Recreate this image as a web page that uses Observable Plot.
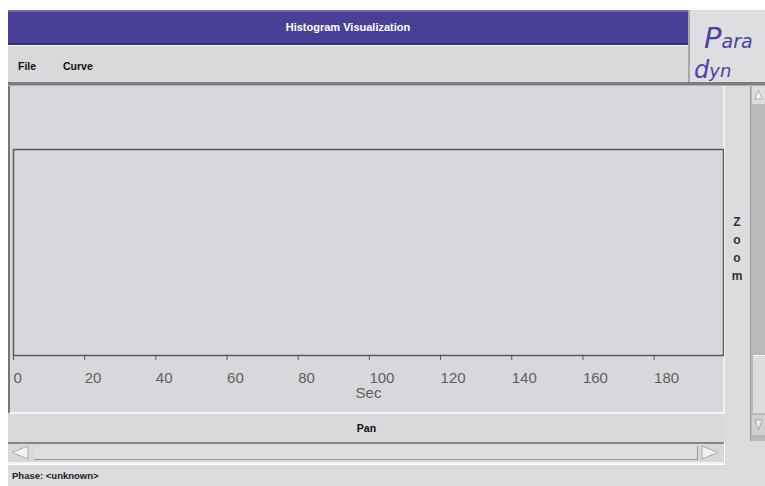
<!DOCTYPE html>
<html>
<head>
<meta charset="utf-8">
<script src="https://cdn.jsdelivr.net/npm/d3@7"></script>
<script src="https://cdn.jsdelivr.net/npm/@observablehq/plot@0.6"></script>
<style>
  html, body { margin: 0; padding: 0; background: #ffffff; }
  #win { position: relative; width: 765px; height: 486px; overflow: hidden; background: #ffffff; font-family: "Liberation Sans", Arial, sans-serif; }
  .abs { position: absolute; box-sizing: border-box; }
  #title { left: 8px; top: 10px; width: 680px; height: 35px; background: #4a3f97; border-top: 2px solid #6f66b4; border-bottom: 2px solid #3a317c; color: #fff; font-weight: bold; font-size: 11px; text-align: center; line-height: 31px; }
  #menu { left: 8px; top: 45px; width: 680px; height: 38px; background: #d9d8da; border-top: 1px solid #f2f2f2; font-weight: bold; font-size: 10.5px; color: #111; }
  #menu span { position: absolute; top: 14px; }
  #logo { left: 688px; top: 10px; width: 77px; height: 73px; background: #dedde0; border-left: 2px solid #a9a9ab; }
  #sep { left: 8px; top: 82px; width: 757px; height: 4px; background: #7c7c7e; border-bottom: 1px solid #b0b0b2; }
  #main { left: 8px; top: 86px; width: 717px; height: 328px; background: #d9d7db; border-left: 2px solid #767678; border-right: 2px solid #f0f0f0; border-bottom: 2px solid #f2f2f2; }
  #plot { left: 8px; top: 86px; width: 716px; height: 327px; }
  #zoomcol { left: 725px; top: 86px; width: 26px; height: 355px; background: #dcdbdd; border-right: 1px solid #a0a0a2; }
  #zoomtxt { left: 727px; top: 213px; width: 20px; font-weight: bold; font-size: 12px; color: #333; text-align: center; line-height: 18px; }
  #vscroll { left: 751px; top: 86px; width: 14px; height: 355px; background: #b9b8bb; }
  #vup { left: 752px; top: 86px; width: 13px; height: 18px; background: #dddcde; }
  #vslider { left: 753px; top: 355px; width: 12px; height: 58px; background: #dddcde; border-top: 1px solid #f5f5f5; }
  #vdown { left: 752px; top: 415px; width: 13px; height: 20px; background: #d0cfd2; }
  #panrow { left: 8px; top: 414px; width: 717px; height: 28px; background: #d9d8da; font-weight: bold; font-size: 10.5px; color: #111; text-align: center; line-height: 28px; padding-left: 0px; }
  #hscroll { left: 8px; top: 442px; width: 716px; height: 22px; background: #d8d7da; border-top: 2px solid #858587; border-bottom: 2px solid #f4f4f4; }
  #hbar { left: 34px; top: 446px; width: 664px; height: 14px; background: #dedde0; border-bottom: 1px solid #9a9a9c; border-right: 1px solid #9a9a9c; }
  #status { left: 8px; top: 465px; width: 757px; height: 21px; background: #dcdbde; font-weight: bold; font-size: 9.5px; color: #222; line-height: 21px; padding-left: 4px; }
  #rightlow { left: 725px; top: 441px; width: 40px; height: 24px; background: #dcdbde; }
  #left { left: 0px; top: 0px; width: 8px; height: 486px; background: #ffffff; }
</style>
</head>
<body>
<div id="win">
  <div class="abs" id="title">Histogram Visualization</div>
  <div class="abs" id="menu"><span style="left:10px">File</span><span style="left:55px">Curve</span></div>
  <div class="abs" id="logo">
    <svg width="75" height="73" style="position:absolute;left:0;top:0">
      <text fill="#4b42a6" font-family="DejaVu Sans, sans-serif" font-style="italic"><tspan x="14" y="38" font-size="29">P</tspan><tspan font-size="19">ara</tspan><tspan x="4" y="68" font-size="24">d</tspan><tspan font-size="18" dy="-1">yn</tspan></text>
    </svg>
  </div>
  <div class="abs" id="sep"></div>
  <div class="abs" id="main"></div>
  <div class="abs" id="plot"></div>
  <div class="abs" id="zoomcol"></div>
  <div class="abs" id="zoomtxt">Z<br>o<br>o<br>m</div>
  <div class="abs" id="vscroll"></div>
  <div class="abs" id="vup"><svg width="13" height="18"><polygon points="3,13 10,13 6.5,4" fill="#f4f4f4" stroke="#b0b0b0"/></svg></div>
  <div class="abs" id="vslider"></div>
  <div class="abs" id="vdown"><svg width="13" height="20"><polygon points="3,5 10,5 6.5,15" fill="#ececec" stroke="#aaa"/></svg></div>
  <div class="abs" id="panrow">Pan</div>
  <div class="abs" id="hscroll">
    <svg width="712" height="18" style="position:absolute;left:0;top:0">
      <polygon points="20,2 20,15 4,8.5" fill="#f2f2f2" stroke="#a8a8a8"/>
      <polygon points="694,2 694,15 710,8.5" fill="#f2f2f2" stroke="#a8a8a8"/>
    </svg>
  </div>
  <div class="abs" id="hbar"></div>
  <div class="abs" id="rightlow"></div>
  <div class="abs" id="status">Phase: &lt;unknown&gt;</div>
  <div class="abs" id="left"></div>
</div>
<script>
// Histogram data (empty: no samples collected yet)
const binTimes = [];
const binValues = [];
// Axis configuration
const xDomain = [0, 199.5];
const xTicks = [0, 20, 40, 60, 80, 100, 120, 140, 160, 180];
const xLabel = "Sec";

const bins = binTimes.map((t, i) => ({t, v: binValues[i]}));

const chart = Plot.plot({
  width: 716,
  height: 327,
  marginLeft: 5,
  marginRight: 1,
  marginTop: 63,
  marginBottom: 58,
  style: {background: "transparent", fontFamily: "Liberation Sans, Arial, sans-serif", fontSize: "15px", color: "#555"},
  x: {domain: xDomain},
  y: {domain: [0, 1], axis: null},
  marks: [
    Plot.rectY(bins, {x1: "t", x2: d => d.t + 1, y: "v", fill: "#4a3f97"}),
    Plot.frame({stroke: "#5a5a5c", strokeWidth: 1.5}),
    Plot.axisX({ticks: xTicks, tickSize: 5, tickPadding: 12, textAnchor: "start", dx: 0, label: null, stroke: "#555", fill: "#5e5e60"}),
    Plot.text([xLabel], {text: d => d, frameAnchor: "bottom", dy: 42, fill: "#5e5e60"})
  ]
});
document.getElementById("plot").appendChild(chart);
</script>
</body>
</html>
